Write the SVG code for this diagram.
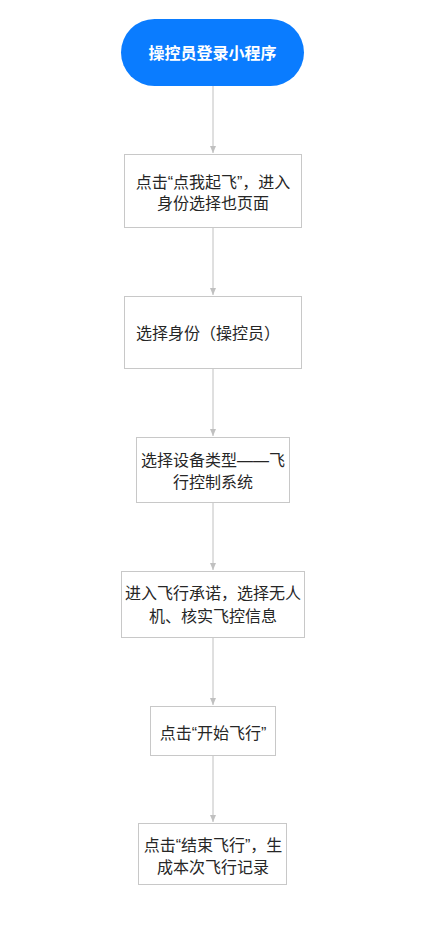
<svg xmlns="http://www.w3.org/2000/svg" width="422" height="932" viewBox="0 0 422 932">
<style>
.box{fill:#fff;stroke:#c8c8c8;stroke-width:1}
.t{font-family:"Liberation Sans","Noto Sans CJK SC",sans-serif;font-size:16px;fill:#262626;text-anchor:middle}
.tw{font-family:"Liberation Sans","Noto Sans CJK SC",sans-serif;font-size:16px;font-weight:bold;fill:#fff;text-anchor:middle}
.c{stroke:#c0c0c0;stroke-width:1;fill:none}
</style>
<defs>
<marker id="ah" markerWidth="8" markerHeight="8" refX="7" refY="4" orient="auto" markerUnits="userSpaceOnUse">
<path d="M0,1 L7,4 L0,7 Z" fill="#c0c0c0"/>
</marker>
</defs>
<rect width="422" height="932" fill="#fff"/>
<g id="connectors">
<line class="c" x1="213" y1="86" x2="213" y2="153" marker-end="url(#ah)"/>
<line class="c" x1="213" y1="228" x2="213" y2="295" marker-end="url(#ah)"/>
<line class="c" x1="213" y1="369" x2="213" y2="436" marker-end="url(#ah)"/>
<line class="c" x1="213" y1="503" x2="213" y2="570" marker-end="url(#ah)"/>
<line class="c" x1="213" y1="638" x2="213" y2="705" marker-end="url(#ah)"/>
<line class="c" x1="213" y1="756" x2="213" y2="822" marker-end="url(#ah)"/>
</g>
<g id="start">
<rect x="121" y="19" width="183" height="67" rx="33.5" fill="#0a7cff"/>
<text class="tw" x="212.5" y="58.5">操控员登录小程序</text>
</g>
<g id="n1">
<rect class="box" x="124.5" y="154.5" width="177" height="73"/>
<text class="t" x="213" y="188">点击“点我起飞”，进入</text>
<text class="t" x="213" y="209">身份选择也页面</text>
</g>
<g id="n2">
<rect class="box" x="124.5" y="296.5" width="177" height="72"/>
<text class="t" x="208" y="339">选择身份（操控员）</text>
</g>
<g id="n3">
<rect class="box" x="136.5" y="437.5" width="153" height="65"/>
<text class="t" x="213" y="466">选择设备类型——飞</text>
<text class="t" x="213" y="488">行控制系统</text>
</g>
<g id="n4">
<rect class="box" x="121.5" y="571.5" width="183" height="66"/>
<text class="t" x="213" y="599">进入飞行承诺，选择无人</text>
<text class="t" x="213" y="622">机、核实飞控信息</text>
</g>
<g id="n5">
<rect class="box" x="150.5" y="706.5" width="125" height="49"/>
<text class="t" x="213" y="739">点击“开始飞行”</text>
</g>
<g id="n6">
<rect class="box" x="138.5" y="823.5" width="148" height="61"/>
<text class="t" x="213" y="851">点击“结束飞行”，生</text>
<text class="t" x="213" y="873">成本次飞行记录</text>
</g>
</svg>
